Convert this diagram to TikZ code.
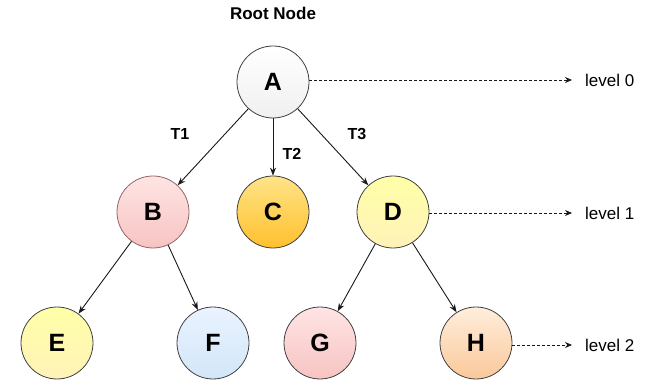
\documentclass[tikz,border=0pt]{standalone}
\usepackage{fontspec}
\setmainfont{Liberation Sans}
\usetikzlibrary{arrows.meta,shapes.geometric}
\definecolor{cTop}{HTML}{FFE488}
\definecolor{cBot}{HTML}{FFC02E}
\definecolor{yTop}{HTML}{FFFFA8}
\definecolor{yBot}{HTML}{FFF2B8}
\definecolor{pTop}{HTML}{FFE4E4}
\definecolor{pBot}{HTML}{F6C4C2}
\definecolor{bTop}{HTML}{EAF3FF}
\definecolor{bBot}{HTML}{D2E6F8}
\definecolor{oTop}{HTML}{FFEEDC}
\definecolor{oBot}{HTML}{FAC89A}
\begin{document}
\begin{tikzpicture}[x=1pt,y=-1pt,
  tnode/.style={circle,draw=black!75,line width=0.8pt,minimum size=72pt,inner sep=0pt,font=\fontsize{25}{25}\selectfont\bfseries},
  edge/.style={draw=black!90,line width=0.9pt,-{Stealth[length=8pt,width=6pt]}},
  lvl/.style={draw=black!90,line width=0.7pt,dash pattern=on 3pt off 2pt,-{Stealth[length=7pt,width=6pt]}},
  lbl/.style={font=\fontsize{16}{16}\selectfont\bfseries},
  lvltxt/.style={anchor=west,inner sep=0pt,font=\fontsize{17}{17}\selectfont}]
\useasboundingbox (0,0) rectangle (654,382);
\node[tnode,top color=white,bottom color=black!6] (A) at (273,82) {A};
\node[tnode,top color=pTop,bottom color=pBot,draw=red!30!black!60] (B) at (153,212) {B};
\node[tnode,top color=cTop,bottom color=cBot] (C) at (273,212) {C};
\node[tnode,top color=yTop,bottom color=yBot] (D) at (393,212) {D};
\node[tnode,top color=yTop,bottom color=yBot] (E) at (57,343) {E};
\node[tnode,top color=bTop,bottom color=bBot] (F) at (213,343) {F};
\node[tnode,top color=pTop,bottom color=pBot] (G) at (320,343) {G};
\node[tnode,top color=oTop,bottom color=oBot] (H) at (476,343) {H};
\node[font=\fontsize{17}{17}\selectfont\bfseries] (root) at (273,13) {Root Node};
\node[lbl] (t1) at (180,134) {T1};
\node[lbl] (t2) at (292,154) {T2};
\node[lbl] (t3) at (357,134) {T3};
\draw[edge] (A) -- (B);
\draw[edge] (A) -- (C);
\draw[edge] (A) -- (D);
\draw[edge] (B) -- (E);
\draw[edge] (B) -- (F);
\draw[edge] (D) -- (G);
\draw[edge] (D) -- (H);
\node[lvltxt] (l0) at (585,80) {level 0};
\node[lvltxt] (l1) at (585,213) {level 1};
\node[lvltxt] (l2) at (585,345) {level 2};
\coordinate (e0) at (572,80);
\coordinate (e1) at (572,213);
\coordinate (e2) at (572,345);
\draw[lvl] (A.east |- e0) -- (e0);
\draw[lvl] (D.east |- e1) -- (e1);
\draw[lvl] (H.east |- e2) -- (e2);
\end{tikzpicture}
\end{document}
